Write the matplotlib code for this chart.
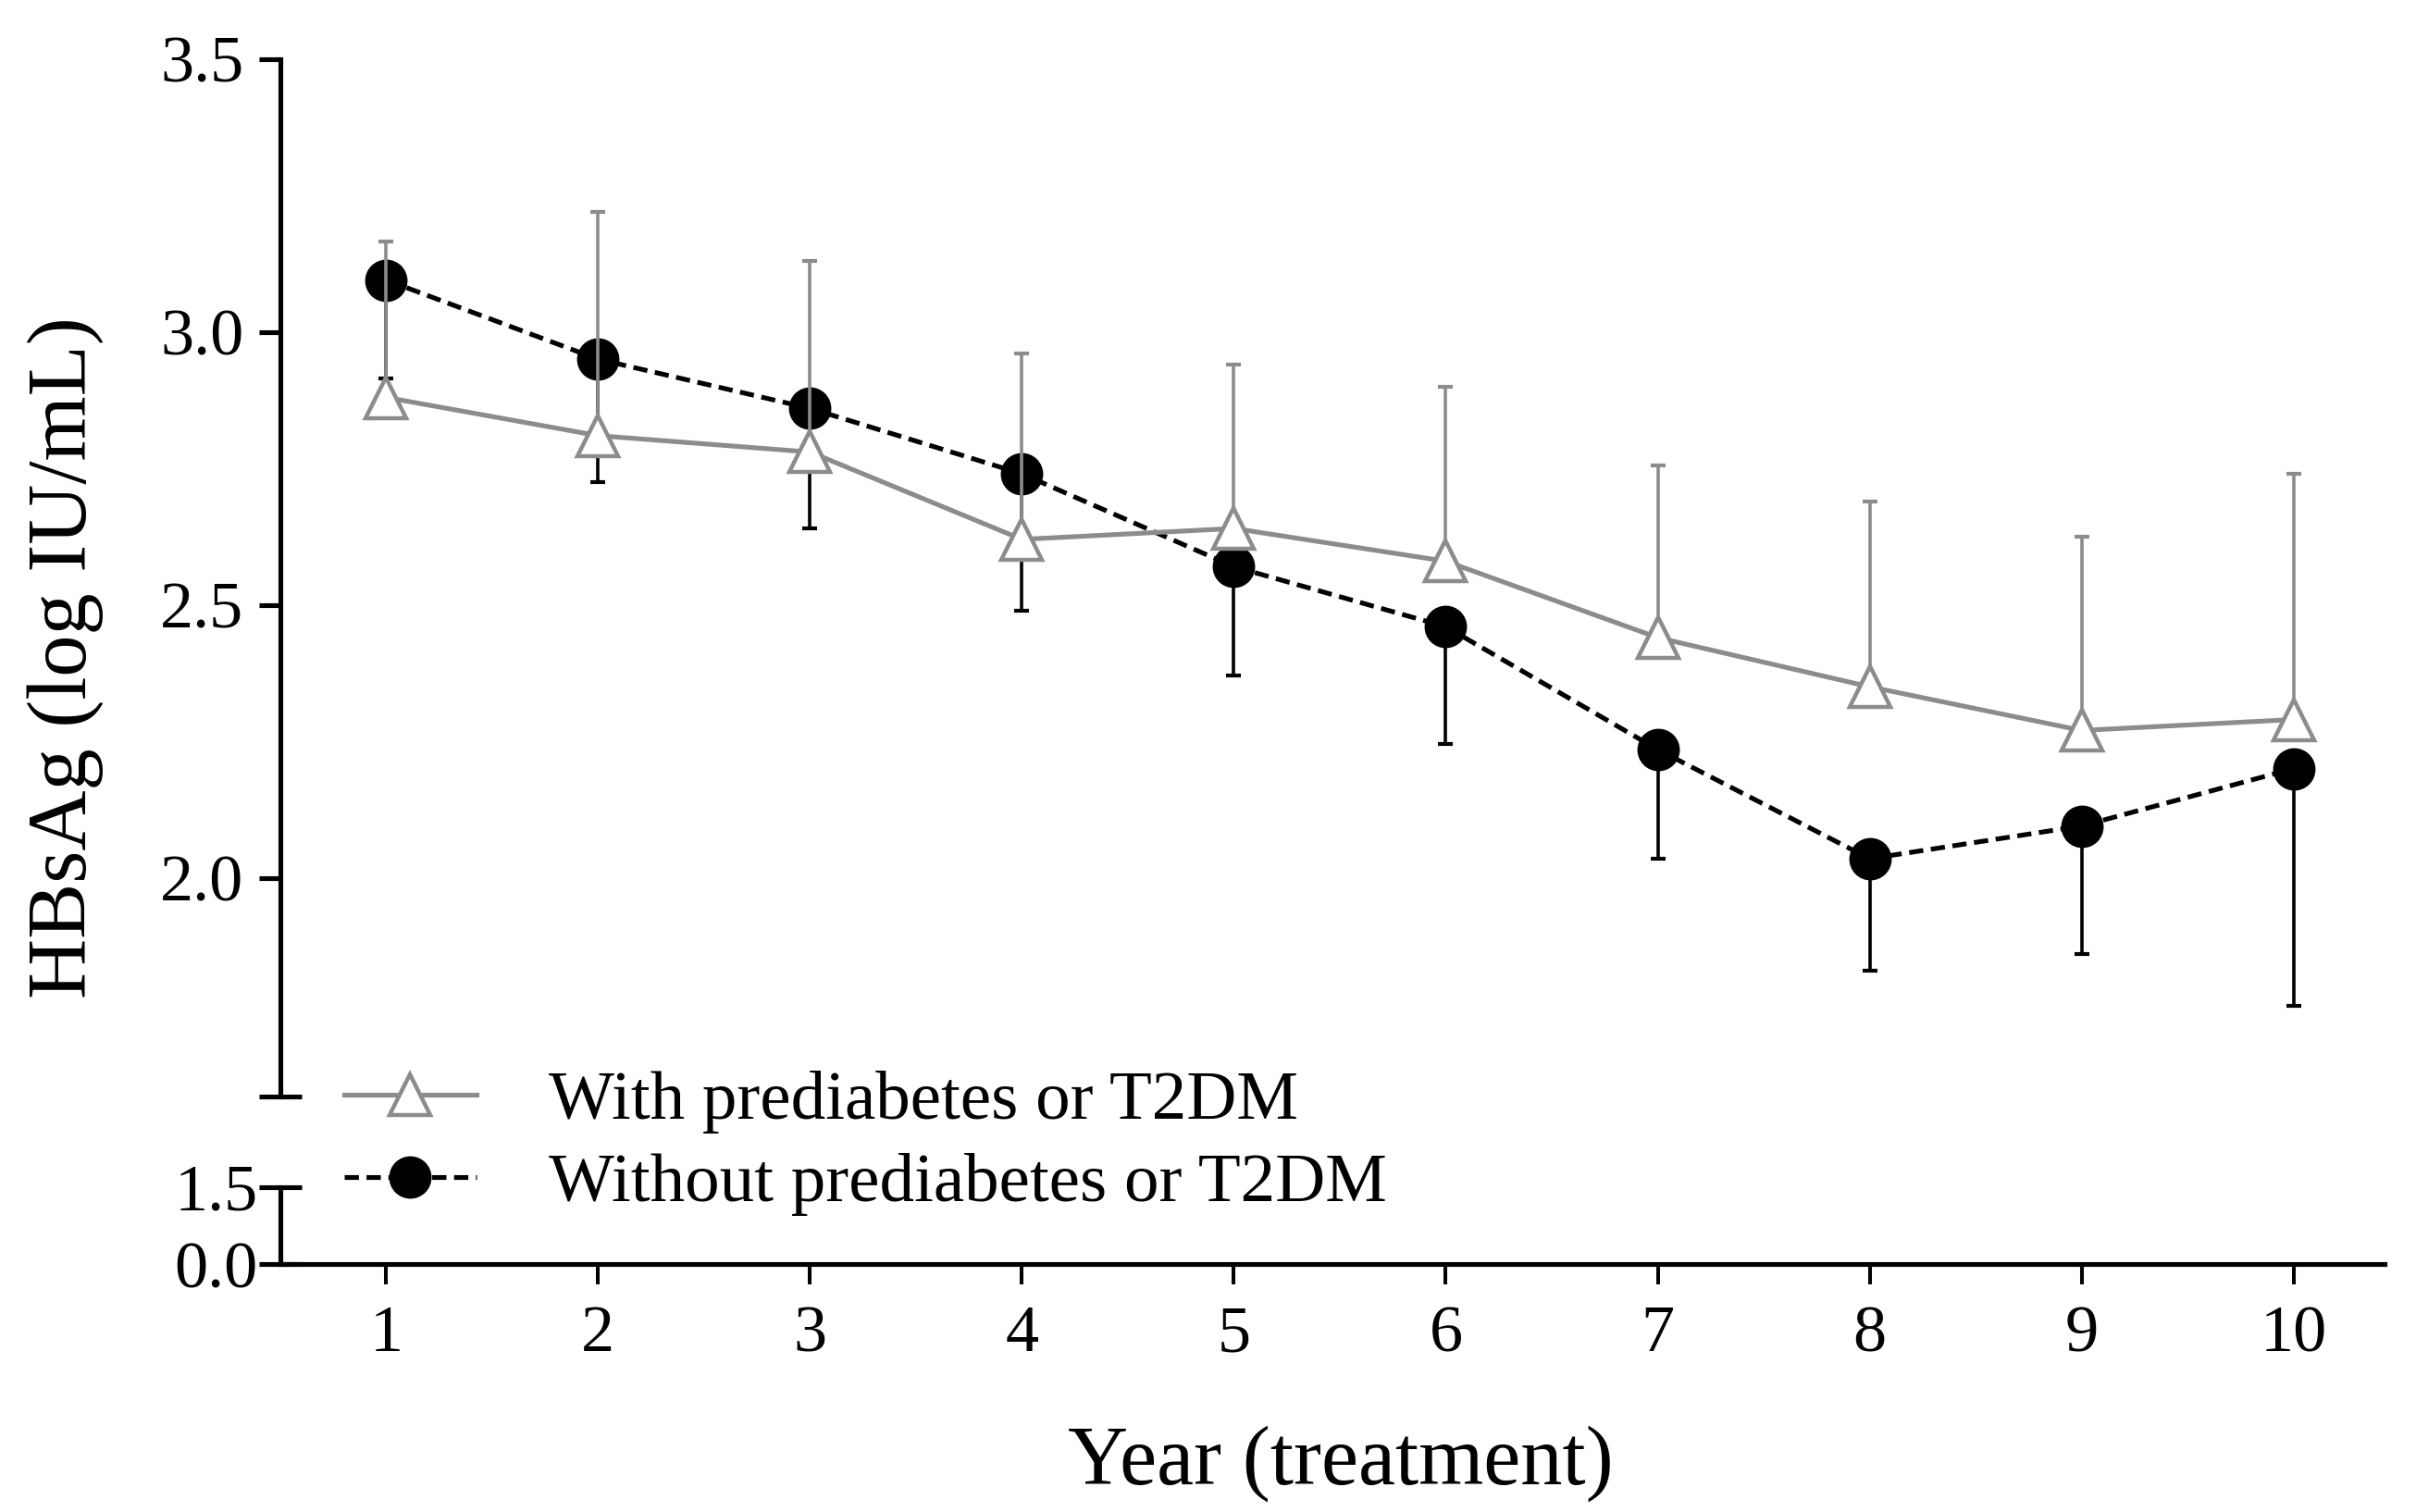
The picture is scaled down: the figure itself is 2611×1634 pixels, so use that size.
import matplotlib
matplotlib.use("Agg")
import matplotlib.pyplot as plt
import numpy as np
from matplotlib.ticker import FixedLocator, NullFormatter

plt.rcParams["font.family"] = ["Liberation Serif", "DejaVu Serif"]

years = [1, 2, 3, 4, 5, 6, 7, 8, 9, 10]

# with prediabetes or T2DM (grey, error bar drawn upward)
with_mean = [2.88, 2.81, 2.78, 2.62, 2.64, 2.58, 2.44, 2.35, 2.27, 2.29]
with_upper = [3.165, 3.22, 3.13, 2.96, 2.94, 2.90, 2.755, 2.69, 2.625, 2.74]

# without prediabetes or T2DM (black, error bar drawn downward)
without_mean = [3.095, 2.95, 2.86, 2.74, 2.57, 2.46, 2.235, 2.035, 2.095, 2.20]
without_lower = [2.915, 2.725, 2.64, 2.49, 2.37, 2.245, 2.035, 1.83, 1.86, 1.765]

top_ticks = [2.0, 2.5, 3.0, 3.5]
bottom_ticks = [0.0, 1.5]
label_with = "With prediabetes or T2DM"
label_without = "Without prediabetes or T2DM"

grey = "#8c8c8c"
spine_w = 3.7

fig = plt.figure(figsize=(26.11, 16.34), dpi=100)
ax = fig.add_axes([0.116, 0.275, 0.871, 0.686])
axb = fig.add_axes([0.116, 0.164, 0.871, 0.051], sharex=ax)

wm = np.array(with_mean)
wo = np.array(without_mean)

# black series first, grey drawn on top of it
ax.errorbar(years, wo, yerr=[wo - np.array(without_lower), np.zeros(len(wo))],
            fmt="none", ecolor="black", elinewidth=2.6, capsize=6,
            capthick=3, zorder=2)
ax.plot(years, wo, color="black", lw=3.7, ls=(0, (3.0, 1.6)),
        marker="o", ms=32, mfc="black", mec="black", zorder=3,
        label=label_without)
ax.errorbar(years, wm, yerr=[np.zeros(len(wm)), np.array(with_upper) - wm],
            fmt="none", ecolor=grey, elinewidth=2.6, capsize=6,
            capthick=3, zorder=4)
ax.plot(years, wm, color=grey, lw=3.7, marker="^", ms=32, mfc="white",
        mec=grey, mew=3.2, zorder=5, label=label_with)

ax.set_xlim(0.5, 10.43)
ax.set_ylim(1.6, 3.5)
axb.set_ylim(0, 1.5)

for a in (ax, axb):
    a.spines["top"].set_visible(False)
    a.spines["right"].set_visible(False)
    a.spines["left"].set_linewidth(spine_w)
    a.spines["bottom"].set_linewidth(spine_w)
    a.patch.set_alpha(0)

ax.spines["bottom"].set_visible(False)
ax.tick_params(axis="x", which="both", bottom=False, labelbottom=False)
ax.yaxis.set_major_locator(FixedLocator(top_ticks))
ax.set_yticklabels(["%.1f" % t for t in top_ticks])
ax.yaxis.set_minor_locator(FixedLocator([1.6]))
ax.yaxis.set_minor_formatter(NullFormatter())
ax.tick_params(axis="y", which="major", direction="out", length=16.5,
               width=spine_w, labelsize=52, pad=12)
ax.tick_params(axis="y", which="minor", direction="inout", length=33,
               width=spine_w)

axb.yaxis.set_major_locator(FixedLocator(bottom_ticks))
axb.set_yticklabels(["%.1f" % t for t in bottom_ticks])
axb.tick_params(axis="y", which="major", direction="inout", length=33,
                width=spine_w, labelsize=52, pad=1)
axb.set_xticks(years)
axb.set_xticklabels([str(y) for y in years])
axb.tick_params(axis="x", direction="out", length=16, width=2.9,
                labelsize=52, pad=16)

fig.text(0.027, 0.565, "HBsAg (log IU/mL)", rotation=90, ha="center",
         va="center", fontsize=65)
fig.text(0.555, 0.032, "Year (treatment)", ha="center", va="center",
         fontsize=65)

handles, labels = ax.get_legend_handles_labels()
fig.legend(handles[::-1], labels[::-1], loc="center left",
           bbox_to_anchor=(0.1425, 0.244), frameon=False, fontsize=54,
           handlelength=1.9, handletextpad=1.05, labelspacing=0.28,
           borderpad=0, borderaxespad=0)

fig.savefig("out.png", dpi=100)
